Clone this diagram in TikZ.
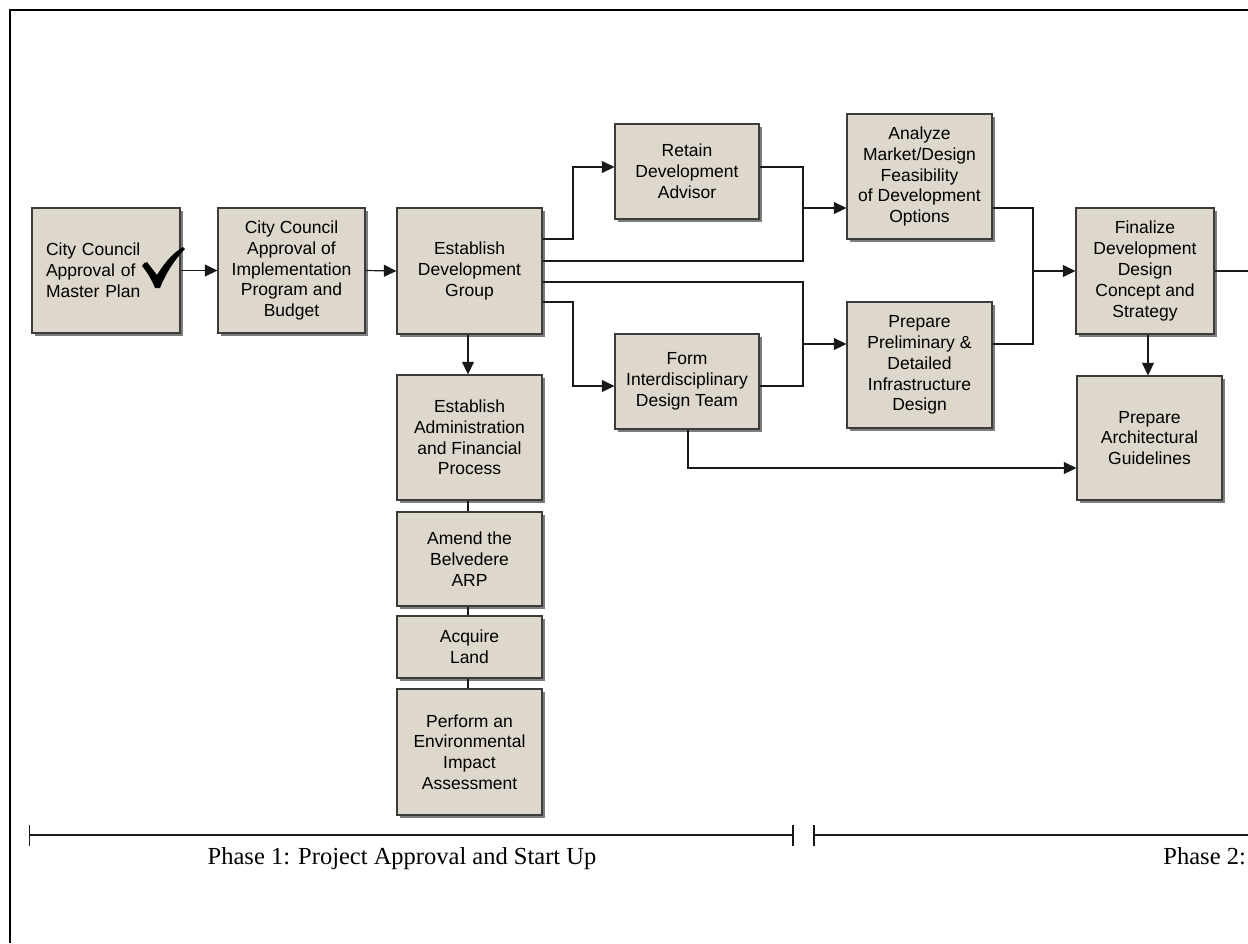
\documentclass[tikz,border=0pt]{standalone}
\usepackage{fontspec}
\usetikzlibrary{arrows.meta,shadows}
\newfontfamily\boxfont{Liberation Sans}
\newfontfamily\phasefont{Liberation Serif}
\definecolor{boxfill}{RGB}{221,215,204}
\definecolor{boxline}{RGB}{60,60,60}
\definecolor{shadowgray}{RGB}{125,125,125}
\definecolor{conn}{RGB}{25,25,25}
\tikzset{
  box/.style={draw=boxline, line width=1.3pt, fill=boxfill, align=center,
    inner sep=2pt, font=\boxfont\fontsize{17.5}{20.8}\selectfont,
    general shadow={fill=shadowgray, shadow xshift=3pt, shadow yshift=-3pt}},
  link/.style={draw=conn, line width=1.2pt},
  arr/.style={link, -{Triangle[length=12.5pt,width=12pt]}},
  tick/.style={draw=conn, line width=1.1pt},
  phase/.style={font=\phasefont\fontsize{24.5}{28}\selectfont, inner sep=0pt}
}
\begin{document}
\begin{tikzpicture}[x=1pt,y=-1pt]
\useasboundingbox (0,0) rectangle (1248,943);
\fill[white] (0,0) rectangle (1248,943);
% frame
\draw[line width=2.4pt, black] (10,943) -- (10,10) -- (1248,10);

% boxes
\node[box, minimum width=148, minimum height=125, text width=120, inner xsep=14pt, align=left] (b1) at (106,270.5) {City Council\\Approval of\\Master Plan};
\node[box, minimum width=147, minimum height=125] (b2) at (291.5,270.5) {City Council\\Approval of\\Implementation\\Program and\\Budget};
\node[box, minimum width=145, minimum height=126] (b3) at (469.5,271) {Establish\\Development\\Group};
\node[box, minimum width=144, minimum height=95] (b4) at (687,171.5) {Retain\\Development\\Advisor};
\node[box, minimum width=144, minimum height=95] (b5) at (687,381.5) {Form\\Interdisciplinary\\Design Team};
\node[box, minimum width=145, minimum height=125] (b6) at (919.5,176.5) {Analyze\\Market/Design\\Feasibility\\of Development\\Options};
\node[box, minimum width=145, minimum height=126] (b7) at (919.5,365) {Prepare\\Preliminary \&\\Detailed\\Infrastructure\\Design};
\node[box, minimum width=138, minimum height=126] (b8) at (1145,271) {Finalize\\Development\\Design\\Concept and\\Strategy};
\node[box, minimum width=145, minimum height=124] (b9) at (1149.5,438) {Prepare\\Architectural\\Guidelines};
\node[box, minimum width=145, minimum height=125] (b10) at (469.5,437.5) {Establish\\Administration\\and Financial\\Process};
\node[box, minimum width=145, minimum height=94] (b11) at (469.5,559) {Amend the\\Belvedere\\ARP};
\node[box, minimum width=145, minimum height=62] (b12) at (469.5,647) {Acquire\\Land};
\node[box, minimum width=145, minimum height=126] (b13) at (469.5,752) {Perform an\\Environmental\\Impact\\Assessment};

% check mark
\fill[black] (142,266) .. controls (144,263) .. (147,262) -- (157,275)
  .. controls (165,262) and (173,253) .. (183,247) -- (185,249)
  .. controls (175,259) and (166,273) .. (160,288) -- (155,288)
  .. controls (152,280) and (147,272) .. (142,266) -- cycle;

% helper coordinates
\coordinate (y167) at (0,167);
\coordinate (y208) at (0,208);
\coordinate (y239) at (0,239);
\coordinate (y261) at (0,261);
\coordinate (y282) at (0,282);
\coordinate (y302) at (0,302);
\coordinate (y344) at (0,344);
\coordinate (y386) at (0,386);
\coordinate (y468) at (0,468);
\coordinate (x468) at (468,0);
\coordinate (x688) at (688,0);
\coordinate (x1148) at (1148,0);
\coordinate (jL1) at (573,239);
\coordinate (jL2) at (573,167);
\coordinate (jL3) at (573,302);
\coordinate (jL4) at (573,386);
\coordinate (jM1) at (803,167);
\coordinate (jM2) at (803,208);
\coordinate (jM3) at (803,261);
\coordinate (jM4) at (803,282);
\coordinate (jM5) at (803,344);
\coordinate (jM6) at (803,386);
\coordinate (jR1) at (1033,208);
\coordinate (jR2) at (1033,271);
\coordinate (jR3) at (1033,344);
\coordinate (jF) at (688,468);
\coordinate (exit) at (1248,271);

% connectors
\draw[arr] (b1.east) -- (b2.west);
\draw[arr] (b2.east) -- (b3.west);
\draw[arr] (b3.east |- y239) -- (jL1) -- (jL2) -- (b4.west |- y167);
\draw[arr] (b4.east |- y167) -- (jM1) -- (jM2) -- (b6.west |- y208);
\draw[link] (b3.east |- y261) -- (jM3) -- (jM2);
\draw[arr] (b3.east |- y282) -- (jM4) -- (jM5) -- (b7.west |- y344);
\draw[arr] (b3.east |- y302) -- (jL3) -- (jL4) -- (b5.west |- y386);
\draw[link] (b5.east |- y386) -- (jM6) -- (jM5);
\draw[arr] (b5.south -| x688) -- (jF) -- (b9.west |- y468);
\draw[arr] (b6.east |- y208) -- (jR1) -- (jR2) -- (b8.west |- jR2);
\draw[link] (b7.east |- y344) -- (jR3) -- (jR2);
\draw[link] (b8.east |- jR2) -- (exit);
\draw[arr] (b8.south -| x1148) -- (b9.north -| x1148);
\draw[arr] (b3.south -| x468) -- (b10.north -| x468);
\draw[link] (b10.south -| x468) -- (b11.north -| x468);
\draw[link] (b11.south -| x468) -- (b12.north -| x468);
\draw[link] (b12.south -| x468) -- (b13.north -| x468);

% phase bars
\coordinate (p1a) at (29.5,835);
\coordinate (p1b) at (793,835);
\coordinate (p2a) at (814,835);
\coordinate (p2b) at (1248,835);
\draw[tick] (p1a) -- (p1b);
\draw[tick] (29.5,825) -- (29.5,846);
\draw[tick] (793,825) -- (793,846);
\draw[tick] (p2a) -- (p2b);
\draw[tick] (814,825) -- (814,846);
\node[phase, anchor=base] (ph1) at (402,864) {Phase 1: Project Approval and Start Up};
\node[phase, anchor=base east] (ph2) at (1246,864) {Phase 2:};
\end{tikzpicture}
\end{document}
